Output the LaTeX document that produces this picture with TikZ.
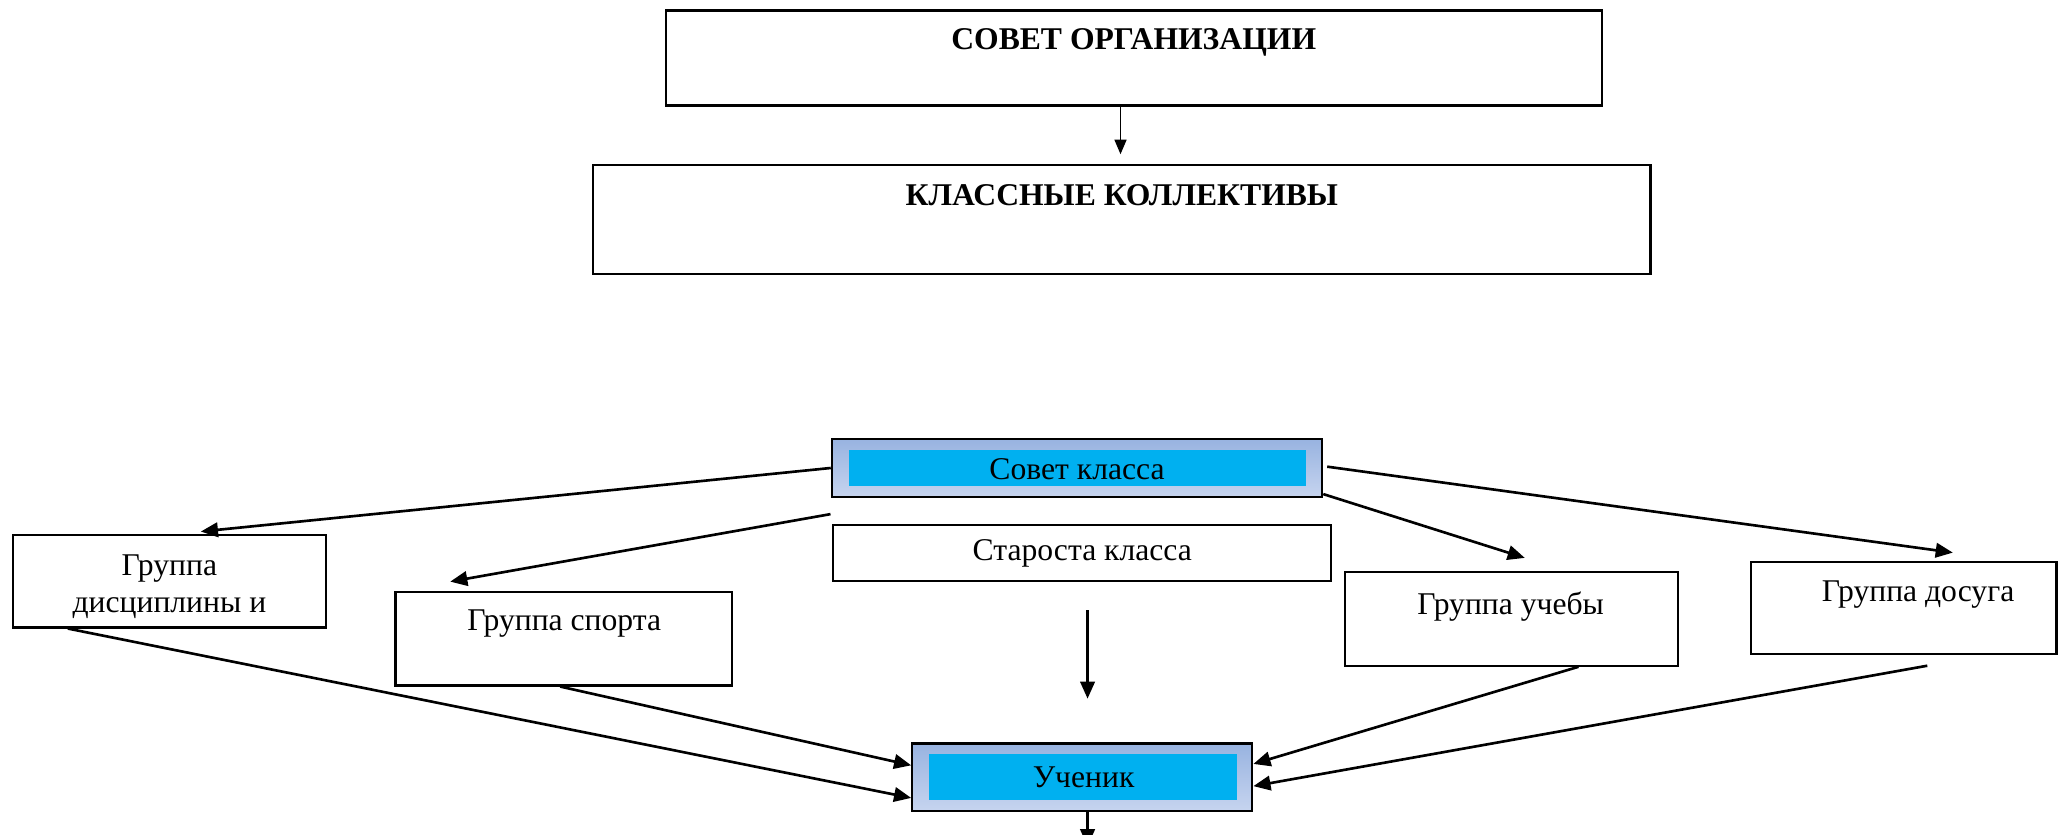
\documentclass[tikz,border=0pt]{standalone}
\usepackage{fontspec}
\setmainfont{Liberation Serif}
\usetikzlibrary{arrows.meta,calc,shadings}
\definecolor{cyanin}{HTML}{00B0F0}
\definecolor{bluetop}{HTML}{98B3E0}
\definecolor{bluebot}{HTML}{C6D4EF}
\tikzset{
  x=0.5pt,y=-0.5pt,
  plainbox/.style={draw=black,line width=0.8pt,fill=white,inner sep=0pt},
  bluebox/.style={draw=black,line width=0.8pt,top color=bluetop,bottom color=bluebot,inner sep=0pt},
  cyanbox/.style={fill=cyanin,inner sep=0pt},
  txt/.style={font=\fontsize{12pt}{14pt}\selectfont,inner sep=0pt,align=center},
  btxt/.style={font=\fontsize{12pt}{14pt}\selectfont\bfseries,inner sep=0pt},
  arr/.style={line width=1pt,-{Triangle[length=6.5pt,width=5.5pt]}},
  thinarr/.style={line width=0.7pt,-{Triangle[length=5.5pt,width=4.5pt]}}
}
\begin{document}
\begin{tikzpicture}
\useasboundingbox (0,0) rectangle (1568,633.4);
% top boxes
\node[plainbox,minimum width=355pt,minimum height=36pt] (org) at (860,44) {};
\node[btxt] (orgt) at (860,32) {СОВЕТ ОРГАНИЗАЦИИ};
\node[plainbox,minimum width=401pt,minimum height=41.5pt] (kk) at (851,166.5) {};
\node[btxt] (kkt) at (851,148) {КЛАССНЫЕ КОЛЛЕКТИВЫ};
\draw[thinarr] (org.south -| 850,0) coordinate (a0) -- (850,117) coordinate (a1);
% Совет класса
\node[bluebox,minimum width=186pt,minimum height=22pt] (sk) at (817,355) {};
\node[cyanbox,minimum width=173.5pt,minimum height=14pt] (ski) at (817.5,355) {};
\node[txt] (skt) at (817,356) {Совет класса};
% Староста
\node[plainbox,minimum width=189pt,minimum height=21.5pt] (st) at (821,419.5) {};
\node[txt] (stt) at (821,420) {Староста класса};
% groups
\node[plainbox,minimum width=118.5pt,minimum height=35pt] (dis) at (128.5,441) {};
\node[txt] (dist) at (128.5,445) {Группа\\[0pt]дисциплины и};
\node[plainbox,minimum width=127.5pt,minimum height=35.5pt] (sp) at (427.5,484.5) {};
\node[txt] (spt) at (428,473) {Группа спорта};
\node[plainbox,minimum width=126.5pt,minimum height=35.5pt] (uc) at (1146.5,469.5) {};
\node[txt] (uct) at (1146,460) {Группа учебы};
\node[plainbox,minimum width=116pt,minimum height=35pt] (ds) at (1444,461) {};
\node[txt] (dst) at (1455,451) {Группа досуга};
% Ученик
\node[bluebox,minimum width=129pt,minimum height=25.5pt] (un) at (821,589.5) {};
\node[cyanbox,minimum width=116.5pt,minimum height=17.5pt] (uni) at (821.5,589.5) {};
\node[txt] (unt) at (822,590) {Ученик};
% arrows from Совет класса
\draw[arr] (sk.west) -- ($(dis.north west)!0.6!(dis.north east)+(0,-2)$);
\coordinate (s2) at (630,390);
\draw[arr] (s2) -- ($(sp.north west)!0.165!(sp.north east)+(0,-7)$);
\draw[arr] ($(sk.south east)+(0,-3)$) -- ($(uc.north west)!0.54!(uc.north east)+(0,-10)$);
\draw[arr] ($(sk.east)+(3,-1)$) -- ($(ds.north west)!0.66!(ds.north east)+(0,-6)$);
% vertical arrow
\coordinate (v1) at (825,463);
\coordinate (v2) at (825,530);
\draw[arr] (v1) -- (v2);
% arrows into Ученик
\draw[arr] ($(dis.south west)!0.177!(dis.south east)$) -- ($(un.north west)!0.8!(un.south west)$);
\draw[arr] ($(sp.south west)!0.49!(sp.south east)$) -- ($(un.north west)!0.33!(un.south west)$);
\draw[arr] ($(uc.south west)!0.70!(uc.south east)$) -- ($(un.north east)!0.31!(un.south east)$);
\coordinate (d8) at (1462,505);
\draw[arr] (d8) -- ($(un.north east)!0.63!(un.south east)$);
% bottom arrow
\coordinate (b2) at (825,642);
\draw[arr] (un.south -| b2) -- (b2);
\end{tikzpicture}
\end{document}
